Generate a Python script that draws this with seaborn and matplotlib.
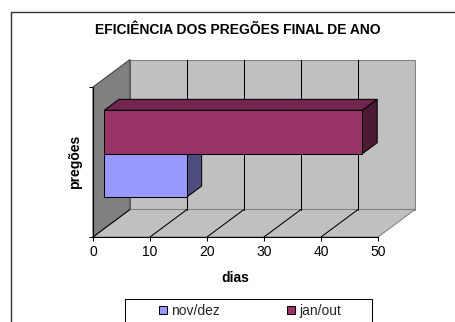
import numpy as np
import pandas as pd
import matplotlib
matplotlib.use("Agg")
import matplotlib.pyplot as plt
import seaborn as sns
from matplotlib.patches import Polygon, Rectangle, Patch
from matplotlib.lines import Line2D
from matplotlib.transforms import Affine2D

# ---- data ----
title = "EFICIÊNCIA DOS PREGÕES FINAL DE ANO"
category = ["pregões"]
series = ["nov/dez", "jan/out"]
values = [14.5, 45.3]
x_ticks = [0, 10, 20, 30, 40, 50]
x_label = "dias"
y_label = "pregões"
colors = {"nov/dez": "#9999FF", "jan/out": "#993366"}

sns.set_style("white")
plt.rcParams["font.family"] = ["Liberation Sans", "DejaVu Sans"]

W, H = 455, 322
fig = plt.figure(figsize=(W / 100, H / 100), dpi=100)
fig.patch.set_facecolor("white")


def fx(px):
    return px / W


def fy(py):
    return 1 - py / H


ax = fig.add_axes([fx(93), fy(237), fx(378) - fx(93), fy(87) - fy(237)])
ax.set_facecolor("none")

df = pd.DataFrame({"cat": category * len(series), "serie": series, "dias": values})
sns.barplot(data=df, x="dias", y="cat", hue="serie", hue_order=["jan/out", "nov/dez"],
            palette=colors, orient="h", width=0.578, dodge=True, errorbar=None,
            edgecolor="black", linewidth=0.75, saturation=1, legend=False, ax=ax)
bars = list(ax.patches)

ax.set_xlim(0, 50)
ax.set_ylim(0.5, -0.5)

# oblique depth vector (data units)
Dx = 50 * 37 / 285
Dy = -27.5 / 150
f0, f1 = 0.305, 0.702


def dk(c, k):
    r, g, b = matplotlib.colors.to_rgb(c)
    return (r * k, g * k, b * k)


# walls
back = Polygon([(Dx, 0.5 + Dy), (50 + Dx, 0.5 + Dy), (50 + Dx, -0.5 + Dy), (Dx, -0.5 + Dy)],
               closed=True, fc="#C0C0C0", ec="#808080", lw=0.75, clip_on=False, zorder=0.5)
left = Polygon([(0, 0.5), (0, -0.5), (Dx, -0.5 + Dy), (Dx, 0.5 + Dy)],
               closed=True, fc="#808080", ec="#404040", lw=0.75, clip_on=False, zorder=0.6)
floor = Polygon([(0, 0.5), (50, 0.5), (50 + Dx, 0.5 + Dy), (Dx, 0.5 + Dy)],
                closed=True, fc="#C0C0C0", ec="#808080", lw=0.75, clip_on=False, zorder=0.6)
for p in (back, left, floor):
    ax.add_patch(p)

for v in x_ticks:
    if 0 < v < 50:
        ax.add_line(Line2D([v + Dx, v + Dx], [0.5 + Dy, -0.5 + Dy], color="black", lw=0.75,
                           clip_on=False, zorder=0.8))
    if v < 50:
        ax.add_line(Line2D([v, v + Dx], [0.5, 0.5 + Dy], color="black", lw=0.75,
                           clip_on=False, zorder=0.8))

# bars: shift front faces, add top and side faces (lower bar drawn first)
shift = Affine2D().translate(f0 * Dx, f0 * Dy) + ax.transData
bars = sorted(bars, key=lambda p: -p.get_y())
z = 3
for p in bars:
    x0, y0, w, h = p.get_x(), p.get_y(), p.get_width(), p.get_height()
    fc = p.get_facecolor()
    p.set_transform(shift)
    p.set_zorder(z + 0.5)
    p.set_clip_on(False)
    ddx, ddy = (f1 - f0) * Dx, (f1 - f0) * Dy
    top = Polygon([(x0, y0), (x0 + w, y0), (x0 + w + ddx, y0 + ddy), (x0 + ddx, y0 + ddy)],
                  closed=True, fc=dk(fc, 0.75), ec="black", lw=0.75, transform=shift,
                  clip_on=False, zorder=z)
    side = Polygon([(x0 + w, y0), (x0 + w, y0 + h), (x0 + w + ddx, y0 + h + ddy), (x0 + w + ddx, y0 + ddy)],
                   closed=True, fc=dk(fc, 0.5), ec="black", lw=0.75, transform=shift,
                   clip_on=False, zorder=z)
    ax.add_patch(top)
    ax.add_patch(side)
    z += 1

# axes styling
for s in ("top", "right"):
    ax.spines[s].set_visible(False)
for s in ("left", "bottom"):
    ax.spines[s].set_color("black")
    ax.spines[s].set_linewidth(0.75)
    ax.spines[s].set_zorder(10)

ax.set_xticks(x_ticks)
ax.set_xticklabels([str(t) for t in x_ticks])
ax.set_yticks([-0.5, 0.5])
ax.set_yticklabels([])
ax.tick_params(axis="x", bottom=True, length=3, width=0.75, direction="out",
               labelsize=10, pad=3, colors="black")
ax.tick_params(axis="y", left=True, length=3, width=0.75, direction="out", colors="black")

ax.set_xlabel(x_label, fontsize=10, fontweight="bold", color="black")
ax.xaxis.set_label_coords(0.5, -(278 - 237) / 150)
ax.xaxis.label.set_va("center")
ax.set_ylabel(y_label, fontsize=10, fontweight="bold", color="black")
ax.yaxis.set_label_coords((75 - 93) / 285, 0.5)
ax.yaxis.label.set_va("center")

fig.text(fx(237.5), fy(30), title, ha="center", va="center", fontsize=10,
         fontweight="bold", color="black")

handles = [Patch(fc=colors[s], ec="black", lw=0.75, label=s) for s in series]
fig.legend(handles=handles, loc="center left", bbox_to_anchor=(fx(159), fy(311)), ncol=2,
           frameon=False, fontsize=10, handlelength=0.55, handleheight=0.55,
           handletextpad=0.35, columnspacing=4.8, borderpad=0, borderaxespad=0)
fig.add_artist(Rectangle((fx(125), fy(335)), fx(372) - fx(125), fy(299) - fy(335),
                         transform=fig.transFigure, fill=False, ec="black", lw=0.75))

fig.add_artist(Line2D([fx(11), fx(11)], [fy(12), fy(340)], transform=fig.transFigure,
                      color="#333333", lw=1))
fig.add_artist(Line2D([fx(11), fx(470)], [fy(12), fy(12)], transform=fig.transFigure,
                      color="#333333", lw=1))

fig.savefig("out.png", dpi=100)
